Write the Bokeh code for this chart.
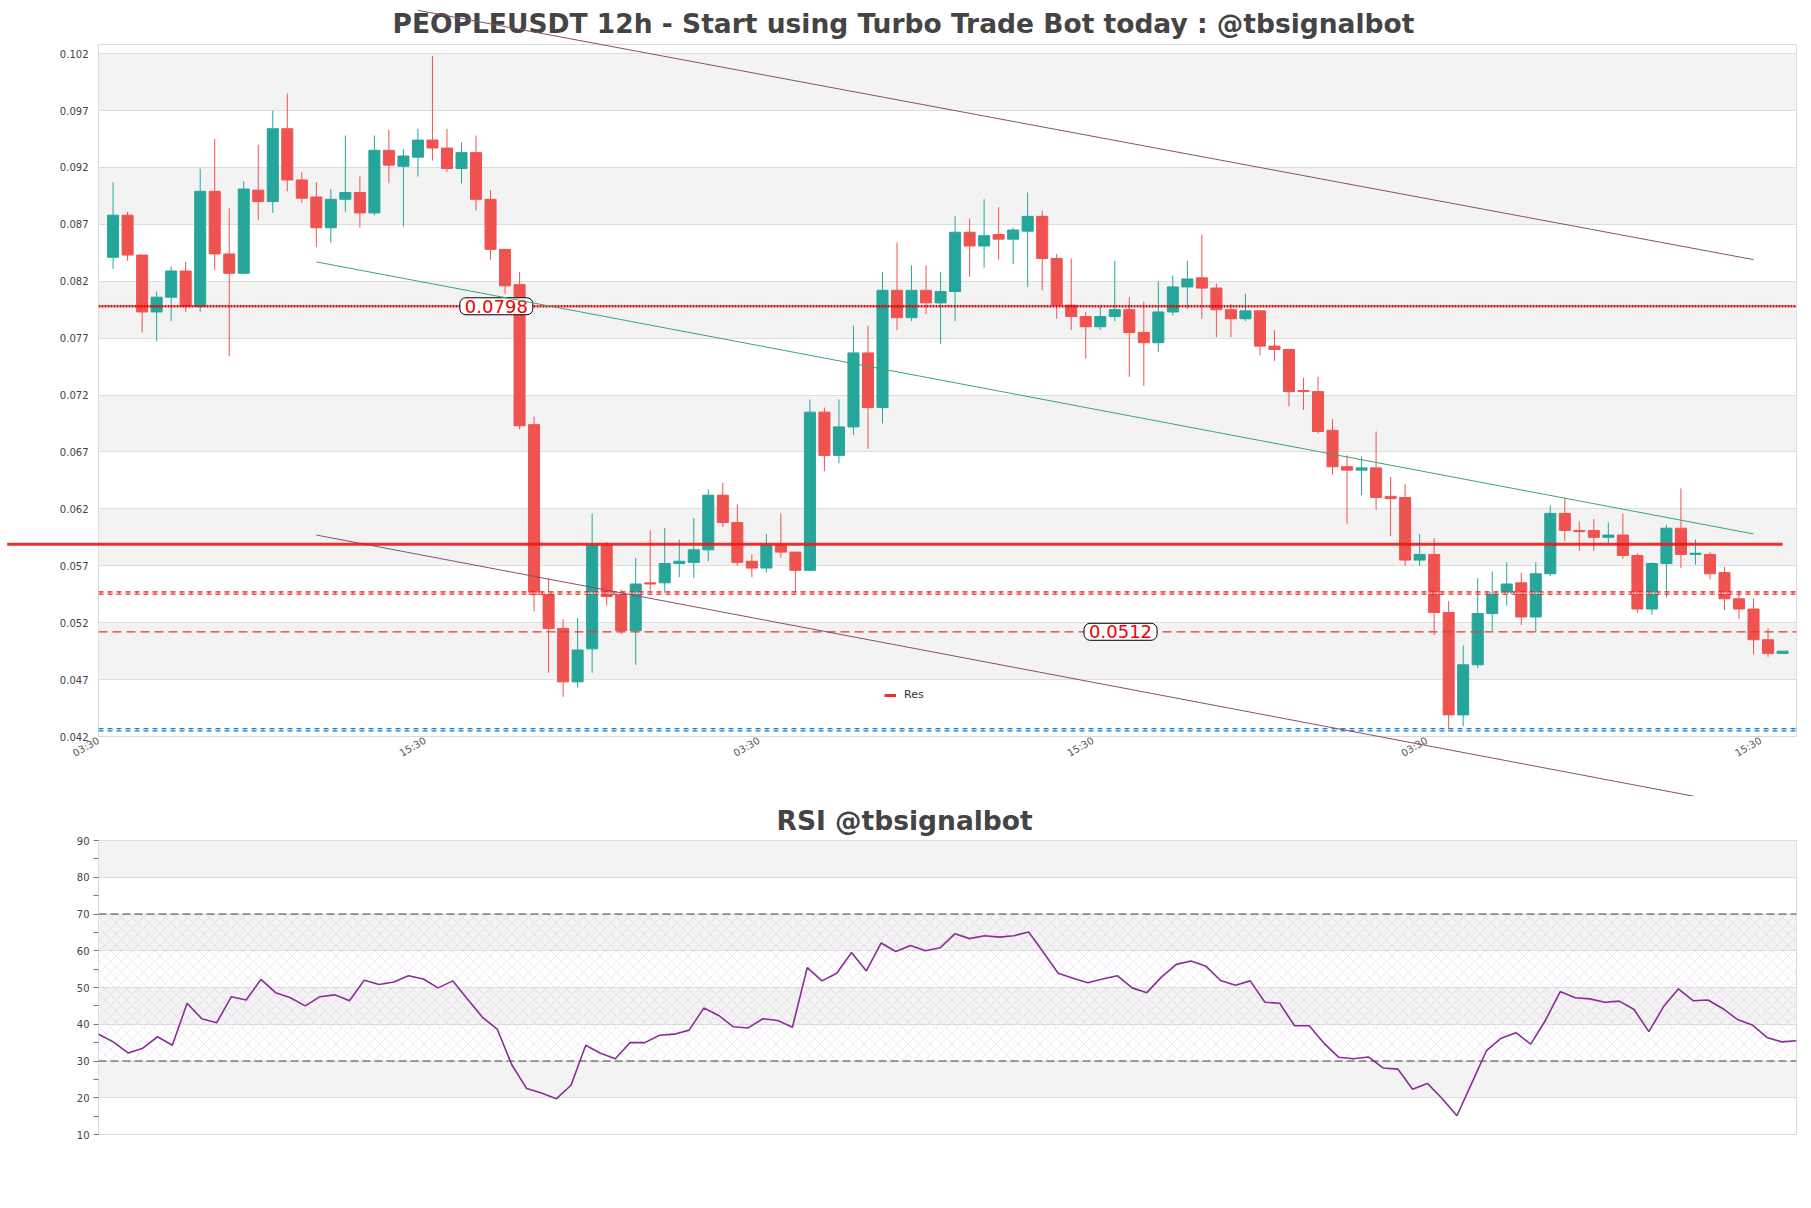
import math
from bokeh.plotting import figure
from bokeh.models import (Range1d, FixedTicker, PrintfTickFormatter, BoxAnnotation,
                          Label, Legend, LegendItem, Span, ColumnDataSource)
from bokeh.layouts import column
from bokeh.embed import file_html
from bokeh.resources import INLINE

# ---------------- data ----------------
opens = [0.0841,0.0878,0.0843,0.0793,0.0806,0.0829,0.0798,0.0899,0.0844,0.0827,
         0.0900,0.0890,0.0954,0.0909,0.0894,0.0867,0.0892,0.0898,0.0880,0.0935,
         0.0921,0.0929,0.0944,0.0937,0.0919,0.0933,0.0892,0.0848,0.0817,0.0694,
         0.0545,0.0515,0.0468,0.0497,0.0588,0.0545,0.0513,0.0555,0.0555,0.0572,
         0.0573,0.0584,0.0632,0.0608,0.0574,0.0568,0.0588,0.0582,0.0566,0.0705,
         0.0667,0.0692,0.0757,0.0709,0.0812,0.0788,0.0812,0.0801,0.0811,0.0863,
         0.0851,0.0861,0.0857,0.0864,0.0877,0.0840,0.0799,0.0789,0.0780,0.0789,
         0.0795,0.0775,0.0766,0.0793,0.0815,0.0823,0.0814,0.0795,0.0787,0.0794,
         0.0763,0.0760,0.0724,0.0723,0.0689,0.0657,0.0654,0.0656,0.0631,0.0630,
         0.0575,0.0580,0.0529,0.0439,0.0483,0.0528,0.0546,0.0555,0.0525,0.0563,
         0.0616,0.0601,0.0601,0.0595,0.0597,0.0579,0.0532,0.0572,0.0603,0.0580,
         0.0580,0.0564,0.0541,0.0532,0.0505,0.0493]
highs = [0.0907,0.0881,0.0843,0.0811,0.0833,0.0837,0.0919,0.0945,0.0884,0.0908,
         0.0940,0.0970,0.0985,0.0916,0.0907,0.0901,0.0948,0.0912,0.0948,0.0953,
         0.0936,0.0954,0.1018,0.0954,0.0942,0.0948,0.0900,0.0848,0.0828,0.0701,
         0.0559,0.0523,0.0524,0.0616,0.0591,0.0549,0.0577,0.0601,0.0603,0.0593,
         0.0612,0.0637,0.0643,0.0624,0.0580,0.0598,0.0616,0.0582,0.0716,0.0709,
         0.0716,0.0781,0.0781,0.0828,0.0854,0.0834,0.0834,0.0828,0.0877,0.0875,
         0.0892,0.0885,0.0867,0.0898,0.0882,0.0844,0.0840,0.0793,0.0798,0.0838,
         0.0806,0.0802,0.0820,0.0825,0.0838,0.0861,0.0818,0.0800,0.0809,0.0794,
         0.0777,0.0760,0.0735,0.0736,0.0699,0.0667,0.0666,0.0688,0.0648,0.0642,
         0.0598,0.0594,0.0539,0.0500,0.0559,0.0565,0.0573,0.0564,0.0573,0.0623,
         0.0630,0.0609,0.0611,0.0608,0.0616,0.0581,0.0573,0.0606,0.0638,0.0593,
         0.0582,0.0569,0.0548,0.0541,0.0515,0.0495]
lows = [0.0831,0.0838,0.0775,0.0767,0.0785,0.0793,0.0793,0.0830,0.0754,0.0827,
        0.0874,0.0880,0.0899,0.0889,0.0850,0.0854,0.0881,0.0867,0.0878,0.0906,
        0.0868,0.0912,0.0926,0.0916,0.0906,0.0882,0.0839,0.0809,0.0690,0.0530,
        0.0476,0.0455,0.0463,0.0476,0.0535,0.0510,0.0483,0.0548,0.0546,0.0560,
        0.0559,0.0574,0.0604,0.0570,0.0560,0.0564,0.0577,0.0546,0.0566,0.0653,
        0.0660,0.0685,0.0673,0.0695,0.0777,0.0785,0.0791,0.0765,0.0785,0.0824,
        0.0832,0.0839,0.0835,0.0815,0.0812,0.0787,0.0777,0.0752,0.0777,0.0785,
        0.0736,0.0728,0.0758,0.0790,0.0796,0.0787,0.0771,0.0771,0.0785,0.0755,
        0.0750,0.0710,0.0707,0.0686,0.0650,0.0607,0.0632,0.0619,0.0596,0.0570,
        0.0570,0.0509,0.0425,0.0429,0.0480,0.0513,0.0535,0.0518,0.0512,0.0561,
        0.0592,0.0583,0.0583,0.0590,0.0576,0.0529,0.0527,0.0542,0.0568,0.0571,
        0.0558,0.0531,0.0523,0.0492,0.0490,0.0493]
closes = [0.0878,0.0843,0.0793,0.0806,0.0829,0.0798,0.0899,0.0844,0.0827,0.0901,
          0.0890,0.0954,0.0909,0.0893,0.0867,0.0892,0.0898,0.0880,0.0935,0.0922,
          0.0930,0.0944,0.0937,0.0919,0.0933,0.0892,0.0848,0.0816,0.0693,0.0545,
          0.0515,0.0468,0.0496,0.0588,0.0543,0.0513,0.0554,0.0554,0.0572,0.0574,
          0.0584,0.0632,0.0608,0.0573,0.0568,0.0588,0.0582,0.0566,0.0705,0.0667,
          0.0692,0.0757,0.0709,0.0812,0.0788,0.0812,0.0801,0.0811,0.0863,0.0851,
          0.0860,0.0857,0.0865,0.0877,0.0840,0.0799,0.0789,0.0780,0.0789,0.0795,
          0.0775,0.0766,0.0793,0.0815,0.0822,0.0814,0.0795,0.0787,0.0794,0.0763,
          0.0760,0.0723,0.0723,0.0688,0.0657,0.0654,0.0656,0.0630,0.0629,0.0575,
          0.0580,0.0529,0.0439,0.0483,0.0528,0.0546,0.0554,0.0525,0.0563,0.0616,
          0.0601,0.0600,0.0595,0.0597,0.0579,0.0532,0.0572,0.0603,0.0580,0.0581,
          0.0563,0.0541,0.0532,0.0505,0.0493,0.0495]
rsi = [37.3,35.2,32.2,33.5,36.6,34.3,45.7,41.5,40.4,47.5,
       46.6,52.2,48.6,47.2,45.0,47.5,48.0,46.4,52.0,50.8,
       51.5,53.2,52.3,49.9,51.8,46.8,41.9,38.7,28.9,22.5,
       21.3,19.7,23.4,34.3,32.1,30.6,35.0,35.0,37.0,37.3,
       38.4,44.4,42.4,39.3,39.0,41.5,41.0,39.2,55.4,51.8,
       53.9,59.5,54.5,62.1,59.8,61.4,60.0,60.8,64.6,63.3,
       64.1,63.7,64.1,65.1,59.5,53.9,52.5,51.3,52.3,53.2,
       49.9,48.6,52.9,56.3,57.2,55.8,51.9,50.6,51.8,46.0,
       45.7,39.6,39.6,34.8,31.0,30.6,31.1,28.1,27.8,22.3,
       23.9,19.8,15.1,23.9,32.8,36.2,37.7,34.6,41.1,48.9,
       47.2,46.9,46.0,46.3,44.0,38.0,44.8,49.6,46.4,46.6,
       44.3,41.3,39.8,36.4,35.2,35.5]

price_ticks = [0.042, 0.047, 0.052, 0.057, 0.062, 0.067, 0.072, 0.077, 0.082, 0.087, 0.092, 0.097, 0.102]
rsi_ticks = [10, 20, 30, 40, 50, 60, 70, 80, 90]
time_tick_pos = [-1, 21.5, 44.5, 67.5, 90.5, 113.5]
time_tick_labels = ["03:30", "15:30", "03:30", "15:30", "03:30", "15:30"]

res_level = 0.0589          # "Res" line
level_dotted = 0.0798
level_pattern_red = 0.0546
level_dashed = 0.0512
level_pattern_blue = 0.0426
res_x = [-7.3, 115]

upper_x, upper_y = [21, 113], [0.1058, 0.0839]
mid_x, mid_y = [14, 113], [0.0837, 0.0598]
lower_x, lower_y = [14, 112], [0.0597, 0.0360]

rsi_upper, rsi_lower = 70, 30

label_0798_x = 26.4
label_0512_x = 69.4

title_main = "PEOPLEUSDT 12h - Start using Turbo Trade Bot today : @tbsignalbot"
title_rsi = "RSI @tbsignalbot"

GREEN = "#26a69a"
RED = "#ef5350"
FONT = "DejaVu Sans"

# ---------------- main chart ----------------
n = len(opens)
xs = list(range(n))
colors = [GREEN if c >= o else RED for o, c in zip(opens, closes)]
src = ColumnDataSource(dict(
    x=xs, high=highs, low=lows,
    top=[max(o, c) for o, c in zip(opens, closes)],
    bottom=[min(o, c) for o, c in zip(opens, closes)],
    color=colors))

p = figure(width=1803, height=796, x_range=Range1d(-1.005, 115.96),
           y_range=Range1d(0.042, 0.1028), output_backend="svg",
           toolbar_location=None, min_border_left=98, min_border_right=7,
           min_border_top=44, min_border_bottom=60)
p.title.text = title_main
p.title.align = "left"
p.title.offset = 294
p.title.standoff = 11
p.title.text_font = FONT
p.title.text_font_size = "26.5px"
p.title.text_font_style = "bold"
p.title.text_color = "#444444"
p.outline_line_color = "#d9d9d9"
p.background_fill_color = "white"

for i in range(1, len(price_ticks) - 1, 2):
    p.add_layout(BoxAnnotation(bottom=price_ticks[i], top=price_ticks[i + 1],
                               fill_color="#f3f3f3", fill_alpha=1.0,
                               line_color=None, level="image"))

p.xgrid.visible = False
p.ygrid.ticker = FixedTicker(ticks=price_ticks)
p.ygrid.grid_line_color = "#dedede"

p.yaxis.ticker = FixedTicker(ticks=price_ticks)
p.yaxis.formatter = PrintfTickFormatter(format="%.3f")
p.yaxis.axis_line_color = None
p.yaxis.major_tick_line_color = None
p.yaxis.minor_tick_line_color = None
p.yaxis.major_tick_out = 0
p.yaxis.minor_tick_out = 0
p.yaxis.major_label_standoff = 10
p.yaxis.major_label_text_font = FONT
p.yaxis.major_label_text_font_size = "10px"
p.yaxis.major_label_text_color = "#444444"

p.xaxis.ticker = FixedTicker(ticks=time_tick_pos)
p.xaxis.major_label_overrides = {t: l for t, l in zip(time_tick_pos, time_tick_labels)}
p.xaxis.major_label_orientation = math.radians(30)
p.xaxis.axis_line_color = None
p.xaxis.major_tick_line_color = None
p.xaxis.minor_tick_line_color = None
p.xaxis.major_tick_out = 0
p.xaxis.minor_tick_out = 0
p.xaxis.major_label_standoff = 3
p.xaxis.major_label_text_font = FONT
p.xaxis.major_label_text_font_size = "10px"
p.xaxis.major_label_text_color = "#555555"

# candles
p.segment(x0="x", y0="high", x1="x", y1="low", source=src, line_color="color", line_width=1)
p.vbar(x="x", width=0.76, top="top", bottom="bottom", source=src,
       fill_color="color", line_color="color", line_width=1)

# horizontal levels
p.add_layout(Span(location=level_dotted, dimension="width", line_color="#e00000",
                  line_width=2.5, line_dash="2 1"))
p.add_layout(Span(location=level_dashed, dimension="width", line_color="#e53935",
                  line_width=1.2, line_dash="9 5"))
for lvl, col in [(level_pattern_red, "#e62020"), (level_pattern_blue, "#1f80d0")]:
    p.add_layout(Span(location=lvl, dimension="width", line_color=col,
                      line_width=3.5, line_dash="5 4"))
    p.add_layout(Span(location=lvl, dimension="width", line_color="white",
                      line_width=1.2, line_dash="2 1"))

# trend / channel lines (drawn unclipped)
p.line(upper_x, upper_y, line_color="#86506e", line_width=1, level="overlay")
p.line(lower_x, lower_y, line_color="#86506e", line_width=1, level="overlay")
p.line(mid_x, mid_y, line_color="#3aa76d", line_width=1, level="overlay")

res_r = p.line(res_x, [res_level, res_level], line_color="#e8191a", line_width=3,
               line_alpha=0.9, level="overlay")

for lx, ly in [(label_0798_x, level_dotted), (label_0512_x, level_dashed)]:
    p.add_layout(Label(x=lx, y=ly, text=f"{ly:.4f}", text_align="center",
                       text_baseline="middle", text_color="#ee0000",
                       text_font=FONT, text_font_size="18px",
                       background_fill_color="white", border_line_color="black",
                       border_line_width=1, padding=(5, 2), border_radius=6))

legend = Legend(items=[LegendItem(label="Res", renderers=[res_r])],
                location=(786, 35), border_line_alpha=0, background_fill_alpha=0,
                glyph_width=12, glyph_height=10, label_text_font=FONT,
                label_text_font_size="11px", label_text_color="#333333",
                padding=0, margin=0, label_standoff=8)
p.add_layout(legend)

# ---------------- RSI chart ----------------
r = figure(width=1803, height=368, x_range=Range1d(0, n - 1), y_range=Range1d(10, 90),
           output_backend="svg", toolbar_location=None, min_border_left=98,
           min_border_right=7, min_border_top=44, min_border_bottom=30)
r.title.text = title_rsi
r.title.align = "left"
r.title.offset = 678
r.title.standoff = 10
r.title.text_font = FONT
r.title.text_font_size = "26.5px"
r.title.text_font_style = "bold"
r.title.text_color = "#444444"
r.outline_line_color = "#d9d9d9"

for i in range(1, len(rsi_ticks) - 1, 2):
    r.add_layout(BoxAnnotation(bottom=rsi_ticks[i], top=rsi_ticks[i + 1],
                               fill_color="#f3f3f3", fill_alpha=1.0,
                               line_color=None, level="image"))
r.add_layout(BoxAnnotation(bottom=rsi_lower, top=rsi_upper, fill_alpha=0,
                           line_color=None, hatch_pattern="diagonal_cross",
                           hatch_color="#b48cc0", hatch_alpha=0.35, hatch_scale=11,
                           hatch_weight=0.6, level="underlay"))

r.xgrid.visible = False
r.xaxis.visible = False
r.ygrid.ticker = FixedTicker(ticks=rsi_ticks)
r.ygrid.grid_line_color = "#dedede"
r.yaxis.ticker = FixedTicker(ticks=rsi_ticks, minor_ticks=[t + 5 for t in rsi_ticks[:-1]])
r.yaxis.axis_line_color = None
r.yaxis.major_tick_in = 0
r.yaxis.major_tick_out = 5
r.yaxis.minor_tick_in = 0
r.yaxis.minor_tick_out = 5
r.yaxis.major_tick_line_color = "#777777"
r.yaxis.minor_tick_line_color = "#777777"
r.yaxis.major_label_standoff = 4
r.yaxis.major_label_text_font = FONT
r.yaxis.major_label_text_font_size = "10px"
r.yaxis.major_label_text_color = "#444444"

for lvl in (rsi_upper, rsi_lower):
    r.add_layout(Span(location=lvl, dimension="width", line_color="#444444",
                      line_width=1.2, line_dash="8 4"))

r.line(xs, rsi, line_color="#8b2d98", line_width=1.6)

layout = column(p, r)
open("out.html", "w").write(file_html(layout, INLINE))
